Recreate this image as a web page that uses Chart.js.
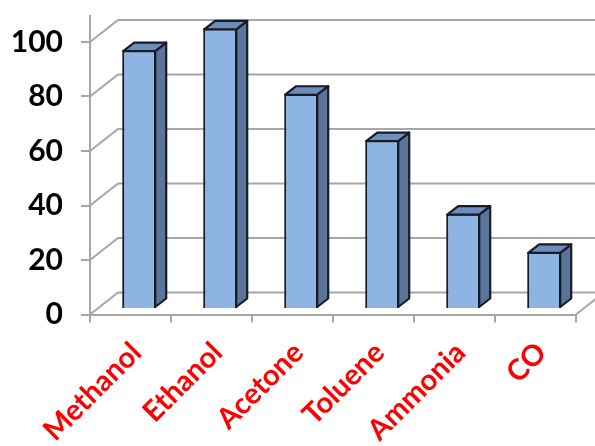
<!DOCTYPE html>
<html>
<head>
<meta charset="utf-8">
<script src="https://cdn.jsdelivr.net/npm/chart.js@4.4.0/dist/chart.umd.min.js"></script>
<style>
  html, body { margin: 0; padding: 0; background: #ffffff; }
  canvas { display: block; }
</style>
</head>
<body>
<canvas id="chart" width="595" height="446"></canvas>
<script>
// Chart data
const categories = ['Methanol', 'Ethanol', 'Acetone', 'Toluene', 'Ammonia', 'CO'];
const values = [95, 103, 79, 62, 35, 21];
const yTickValues = [0, 20, 40, 60, 80, 100];

// 3D geometry (pixels)
const WALL_DEPTH = { x: 28, y: -22 };   // front plane -> back wall
const BAR_SHIFT = { x: 8.7, y: -5.5 };  // front plane -> bar front faces
const BAR_DEPTH = { x: 11, y: -8.5 };   // bar front face -> bar back face

const GRID_COLOR = '#a6a6a6';
const BAR_FRONT = '#8db4e2';
const BAR_SIDE = '#5a7599';
const BAR_TOP = '#6f8dbb';
const BAR_EDGE = '#161c28';

const box3d = {
  id: 'box3d',
  beforeDatasetsDraw(chart) {
    const { ctx, chartArea: a, scales: { y } } = chart;
    ctx.save();
    ctx.strokeStyle = GRID_COLOR;
    ctx.lineWidth = 2;
    ctx.beginPath();
    // side wall diagonals and back wall gridlines
    yTickValues.forEach(v => {
      const py = y.getPixelForValue(v);
      ctx.moveTo(a.left, py);
      ctx.lineTo(a.left + WALL_DEPTH.x, py + WALL_DEPTH.y);
      ctx.lineTo(chart.width + 10, py + WALL_DEPTH.y);
    });
    // vertical axis line
    ctx.moveTo(a.left, a.bottom + 1);
    ctx.lineTo(a.left, 15);
    // right edge of the floor
    ctx.moveTo(a.right, a.bottom);
    ctx.lineTo(a.right + WALL_DEPTH.x, a.bottom + WALL_DEPTH.y);
    ctx.stroke();
    ctx.restore();

    // bars sit a little behind the front plane
    ctx.save();
    ctx.translate(BAR_SHIFT.x, BAR_SHIFT.y);
  },
  afterDatasetsDraw(chart) {
    const { ctx } = chart;
    const meta = chart.getDatasetMeta(0);
    ctx.lineWidth = 2.2;
    ctx.lineJoin = 'round';
    ctx.strokeStyle = BAR_EDGE;
    meta.data.forEach(bar => {
      const { x, y, base, width } = bar.getProps(['x', 'y', 'base', 'width'], true);
      const l = x - width / 2 + 1, r = x + width / 2 - 1;
      const t = y + 1, b = base - 1;
      // side face
      ctx.beginPath();
      ctx.moveTo(r, t);
      ctx.lineTo(r + BAR_DEPTH.x, t + BAR_DEPTH.y);
      ctx.lineTo(r + BAR_DEPTH.x, b + BAR_DEPTH.y);
      ctx.lineTo(r, b);
      ctx.closePath();
      ctx.fillStyle = BAR_SIDE;
      ctx.fill();
      ctx.stroke();
      // top face
      ctx.beginPath();
      ctx.moveTo(l, t);
      ctx.lineTo(l + BAR_DEPTH.x, t + BAR_DEPTH.y);
      ctx.lineTo(r + BAR_DEPTH.x, t + BAR_DEPTH.y);
      ctx.lineTo(r, t);
      ctx.closePath();
      ctx.fillStyle = BAR_TOP;
      ctx.fill();
      ctx.stroke();
    });
    ctx.restore();
  }
};

const fontFamily = "Lato, 'Liberation Sans', sans-serif";

new Chart(document.getElementById('chart'), {
  type: 'bar',
  data: {
    labels: categories,
    datasets: [{
      data: values,
      backgroundColor: BAR_FRONT,
      borderColor: BAR_EDGE,
      borderWidth: 2.2,
      barPercentage: 0.42,
      categoryPercentage: 1,
      clip: false
    }]
  },
  options: {
    responsive: false,
    animation: false,
    devicePixelRatio: 1,
    layout: { padding: { top: 42, right: 19, left: 0, bottom: 0 } },
    plugins: { legend: { display: false }, tooltip: { enabled: false } },
    scales: {
      x: {
        grid: { drawOnChartArea: false, drawTicks: true, tickLength: 8, color: GRID_COLOR, lineWidth: 2, offset: true },
        border: { display: true, color: GRID_COLOR, width: 2 },
        ticks: {
          color: '#ff0000', font: { family: fontFamily, weight: 'bold', size: 29 },
          minRotation: 45, maxRotation: 45, autoSkip: false,
          padding: 13, labelOffset: 6
        },
        afterFit(scale) { scale.height = 446 - 314.5; }
      },
      y: {
        min: 0, max: 100,
        ticks: { stepSize: 20, color: '#000000', font: { family: fontFamily, weight: 'bold', size: 30 }, padding: 18 },
        grid: { drawOnChartArea: false, drawTicks: true, tickLength: 9, color: GRID_COLOR, lineWidth: 2 },
        border: { display: false },
        afterFit(scale) { scale.width = 90; }
      }
    }
  },
  plugins: [box3d]
});
</script>
</body>
</html>
